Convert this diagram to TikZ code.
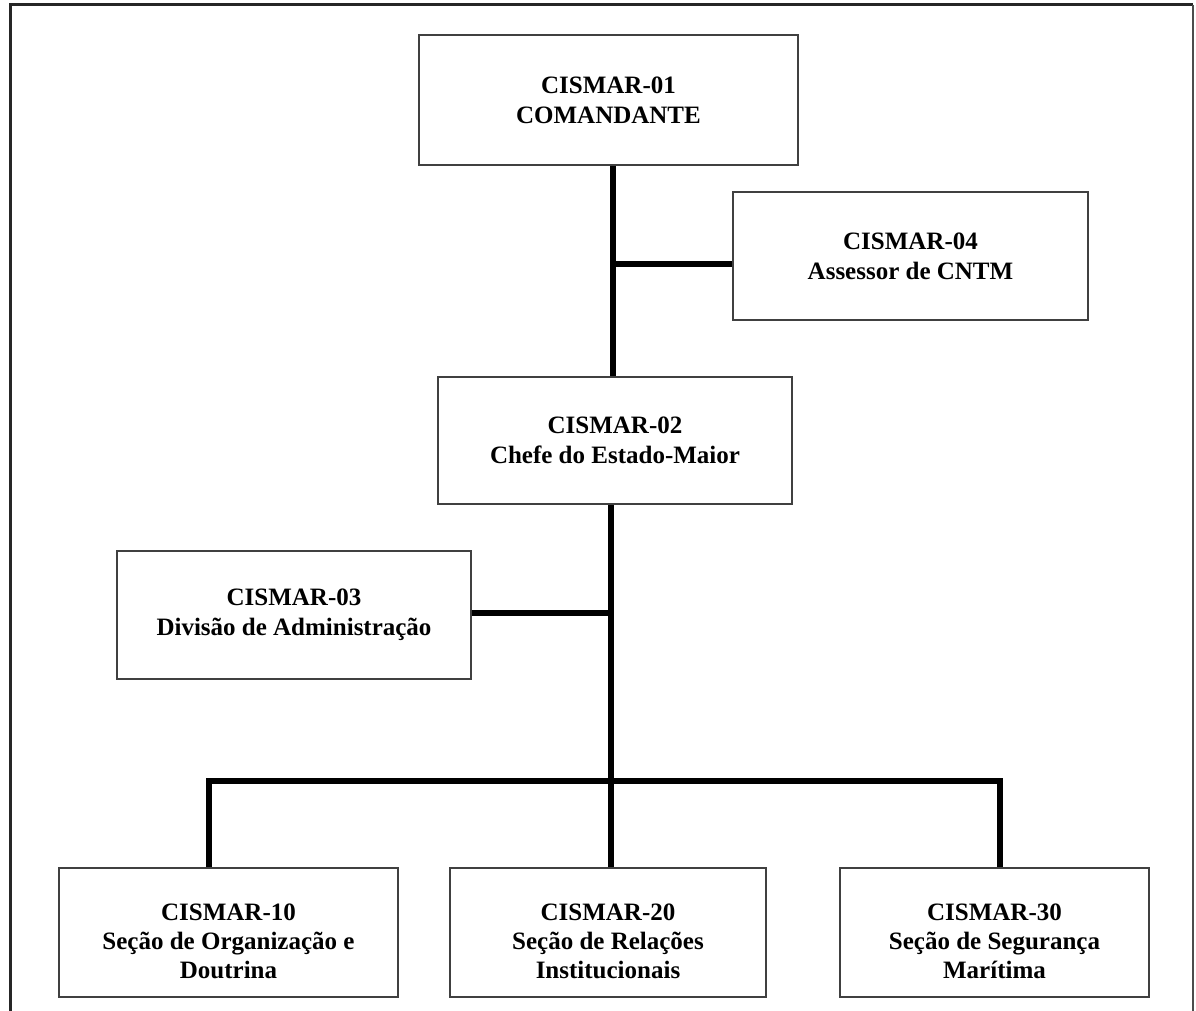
\documentclass[tikz,border=0pt]{standalone}
\usepackage{fontspec}
\setmainfont{Liberation Serif}
\usepackage{tikz}

\tikzset{
	unit/.style={draw=black!75, line width=1pt, align=center,
		font=\fontsize{12.5}{15}\selectfont\bfseries},
	lowtext/.style={align=center, yshift=-4.5pt,
		font=\fontsize{12.5}{14.5}\selectfont\bfseries},
	link/.style={line width=3.2pt, black},
	frame/.style={line width=1.5pt, black!85}
}

\begin{document}
\begin{tikzpicture}[x=0.5pt, y=-0.5pt]
	\useasboundingbox (0,0) rectangle (1196,1011);
	% outer frame (open at the bottom)
	\draw[frame] (10,1011) -- (10,5) -- (1193,5);
	\draw[line width=0.6pt, black!70] (1193,5) -- (1193,1011);

	\node[unit, minimum width=189.5pt, minimum height=65pt] (c01) at (608.5,100) {CISMAR-01\\COMANDANTE};
	\node[unit, minimum width=177.5pt, minimum height=64pt] (c04) at (910.5,256) {CISMAR-04\\Assessor de CNTM};
	\node[unit, minimum width=177pt, minimum height=63.5pt] (c02) at (615,440.5) {CISMAR-02\\Chefe do Estado-Maior};
	\node[unit, minimum width=177pt, minimum height=64pt] (c03) at (294,615) {CISMAR-03\\Divisão de Administração};

	\node[unit, minimum width=169.5pt, minimum height=64.5pt,
		label={[lowtext]center:CISMAR-10\\Seção de Organização e\\Doutrina}] (c10) at (228.5,932.5) {};
	\node[unit, minimum width=158pt, minimum height=64.5pt,
		label={[lowtext]center:CISMAR-20\\Seção de Relações\\Institucionais}] (c20) at (608,932.5) {};
	\node[unit, minimum width=154.5pt, minimum height=64.5pt,
		label={[lowtext]center:CISMAR-30\\Seção de Segurança\\Marítima}] (c30) at (994.5,932.5) {};

	\coordinate (j04) at (613,264);
	\coordinate (j03) at (611,613);
	\coordinate (bus) at (611,781);
	\coordinate (d10) at (209,781);
	\coordinate (d30) at (1000,781);

	\path [link] (c01.south -| j04) edge (c02.north -| j04);
	\path [link] (j04) edge (j04 -| c04.west);
	\path [link] (c02.south -| bus) edge (c20.north -| bus);
	\path [link] (c03.east |- j03) edge (j03);
	\draw [link] (c10.north -| d10) -- (d10) -- (d30) -- (c30.north -| d30);
\end{tikzpicture}
\end{document}
